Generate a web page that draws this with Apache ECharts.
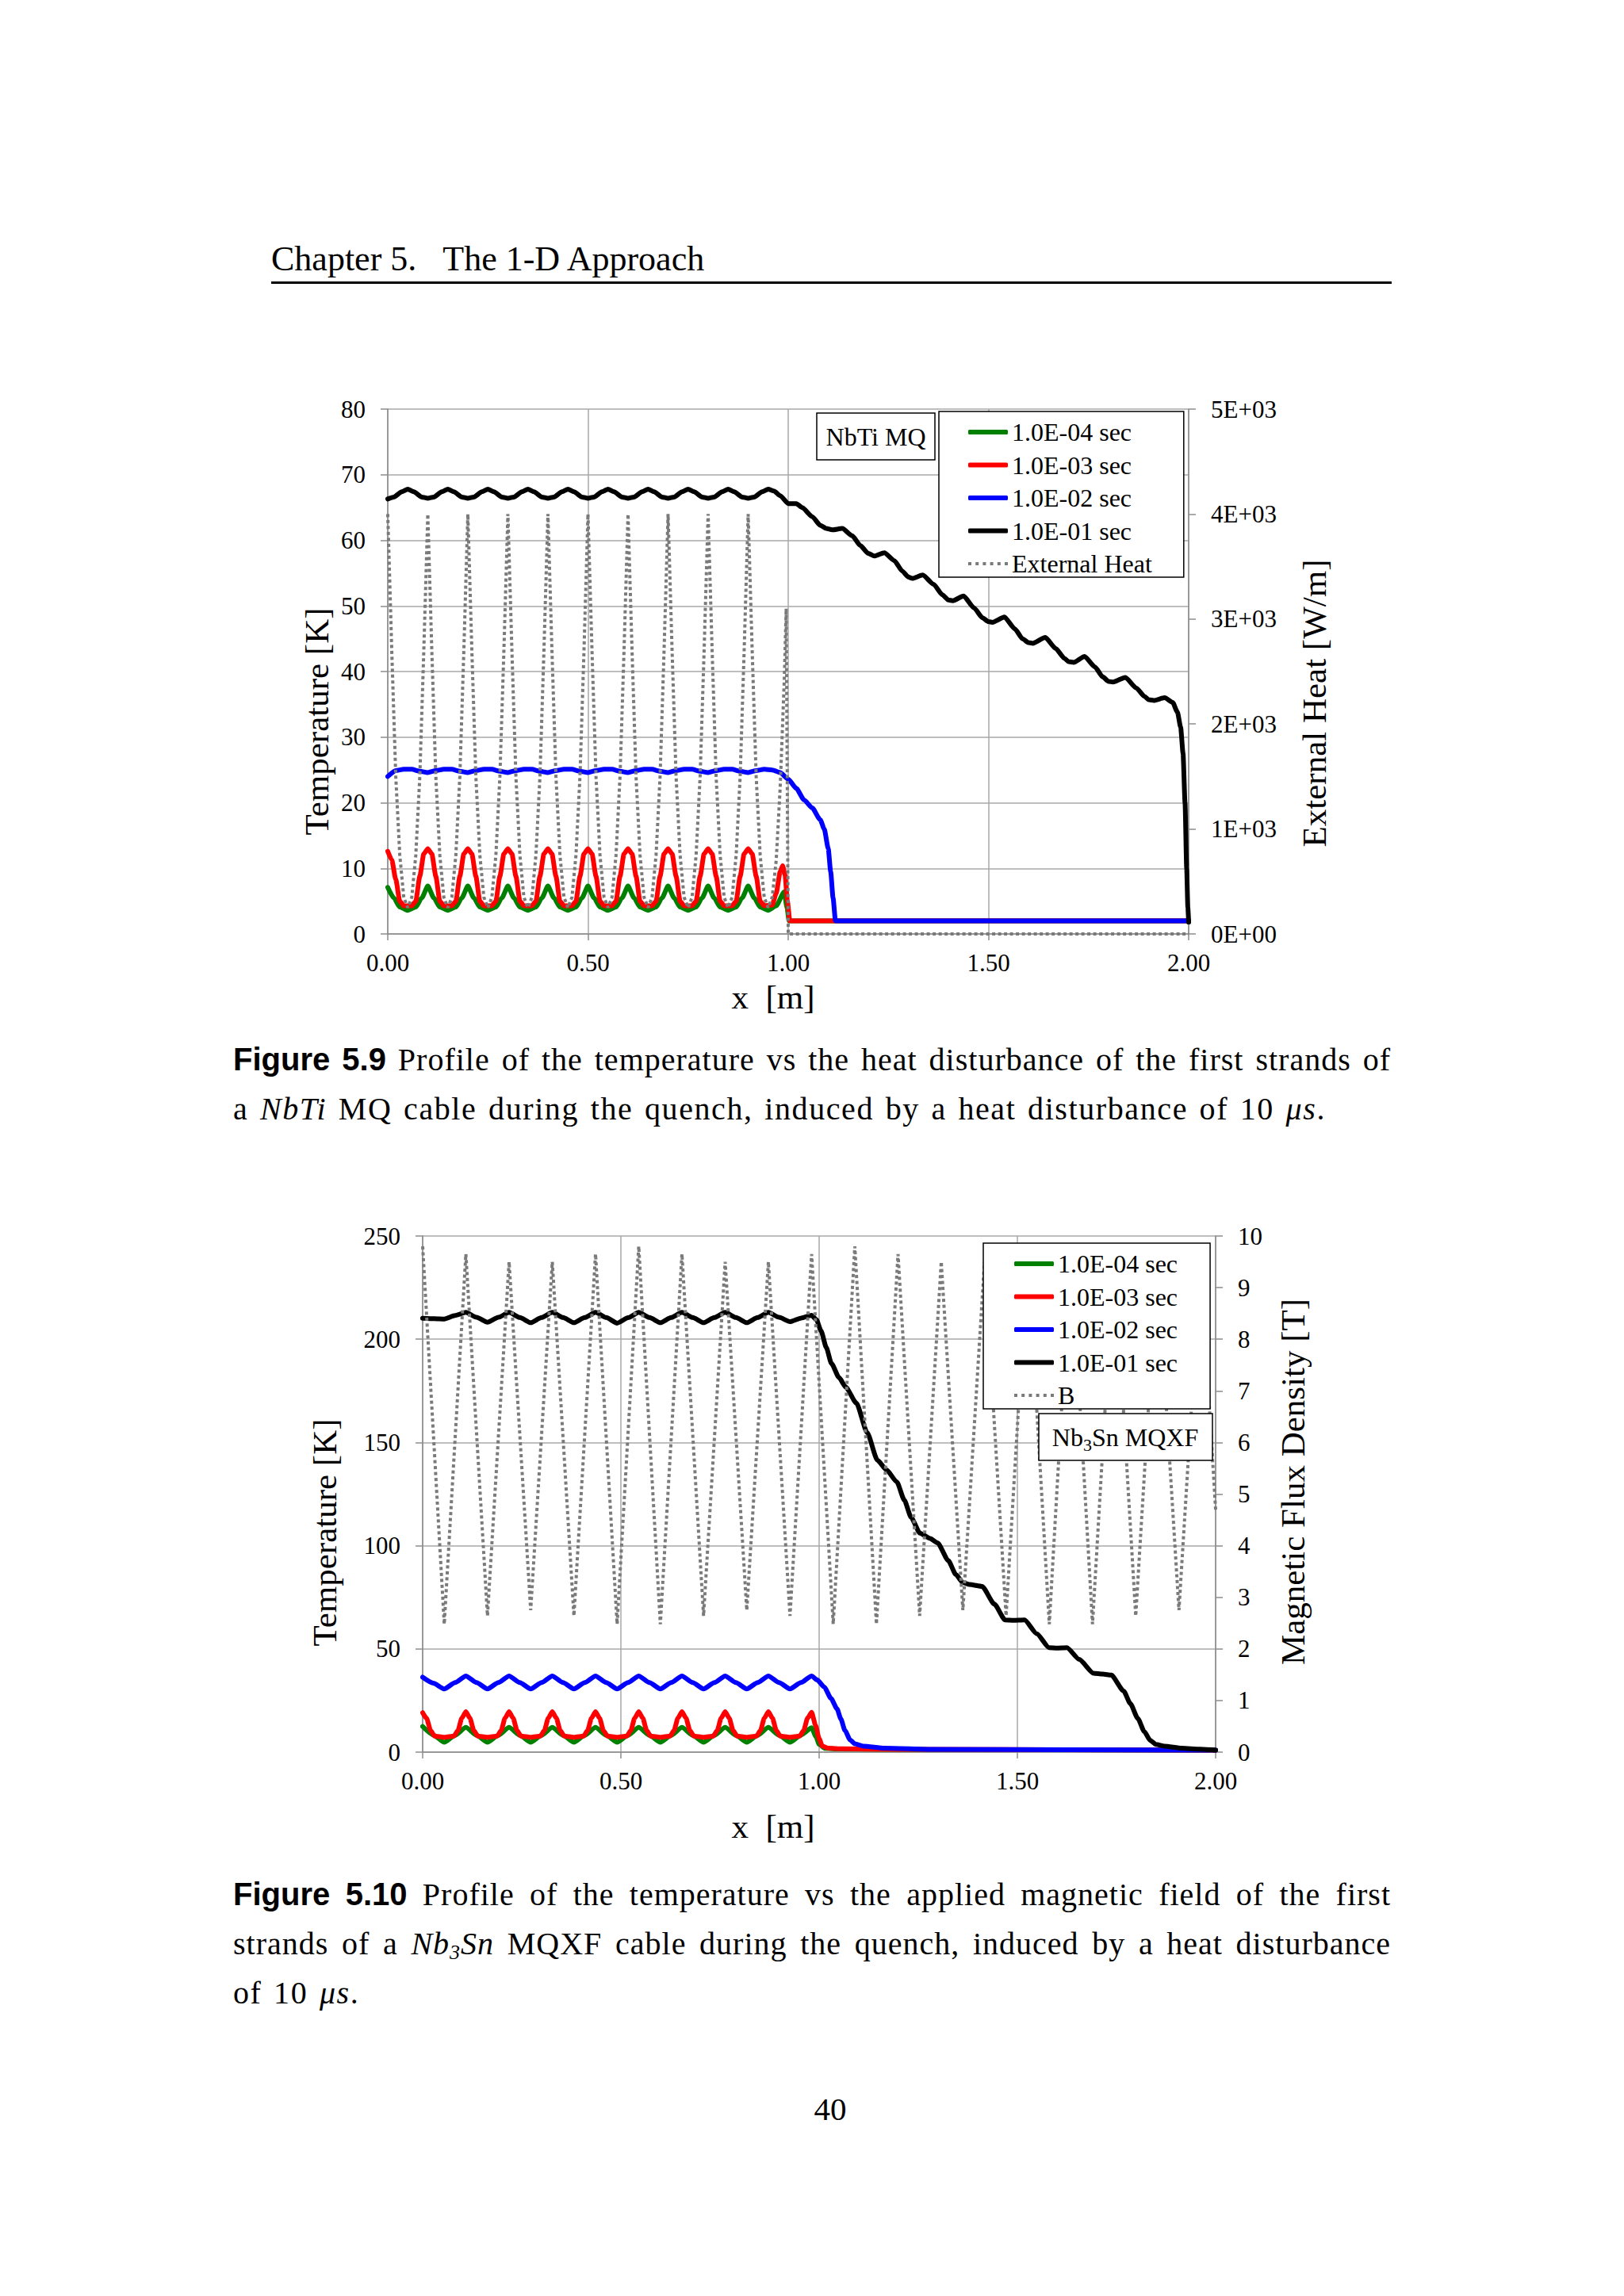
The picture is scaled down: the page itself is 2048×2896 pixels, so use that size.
<!DOCTYPE html>
<html>
<head>
<meta charset="utf-8">
<script src="https://cdn.jsdelivr.net/npm/echarts@6/dist/echarts.min.js"></script>
<style>
html,body{margin:0;padding:0;background:#fff;}
body{width:2048px;height:2896px;position:relative;overflow:hidden;font-family:'Liberation Serif','Times New Roman',serif;color:#000;}
#chart{position:absolute;left:0;top:0;width:2048px;height:2896px;z-index:2;}
.t{position:absolute;white-space:nowrap;}
#hdr{left:342px;top:305px;font-size:44px;line-height:44px;}
#rule{position:absolute;left:342px;top:355px;width:1413px;height:2.5px;background:#000;}
.cap{position:absolute;left:294px;width:1460px;font-size:40px;line-height:62px;}
.cap div{letter-spacing:1.6px;word-spacing:3px;}
.cap .j{text-align:justify;text-align-last:justify;letter-spacing:1px;word-spacing:0;}
.cap b{font-family:'Liberation Sans',Arial,sans-serif;font-weight:bold;letter-spacing:0;}
.cap sub{font-size:26px;line-height:0;vertical-align:-6px;}
#pg{left:947px;width:200px;text-align:center;top:2640px;font-size:41px;line-height:41px;}
</style>
</head>
<body>
<div class="t" id="hdr">Chapter 5. &ensp;The 1-D Approach</div>
<div id="rule"></div>
<div class="cap" style="top:1305px">
  <div class="j"><b>Figure 5.9</b> Profile of the temperature vs the heat disturbance of the first strands of</div>
  <div>a <i>NbTi</i> MQ cable during the quench, induced by a heat disturbance of 10 <i>μs</i>.</div>
</div>
<div class="cap" style="top:2358px">
  <div class="j"><b>Figure 5.10</b> Profile of the temperature vs the applied magnetic field of the first</div>
  <div class="j">strands of a <i>Nb<sub>3</sub>Sn</i> MQXF cable during the quench, induced by a heat disturbance</div>
  <div>of 10 <i>μs</i>.</div>
</div>
<div class="t" id="pg">40</div>
<div id="chart"></div>
<script>
// ---------- names & tick labels ----------
const seriesNames = ['1.0E-04 sec', '1.0E-03 sec', '1.0E-02 sec', '1.0E-01 sec'];
const heatName = 'External Heat';
const fieldName = 'B';
const xTickLabels = ['0.00', '0.50', '1.00', '1.50', '2.00'];
const heatTickLabels = ['0E+00', '1E+03', '2E+03', '3E+03', '4E+03', '5E+03'];

// ---------- Figure 5.9 (NbTi MQ): x [m], T [K] ----------
const green1 = [
 [0,7.1],[0.015,5.5],[0.03,4.1],[0.05,3.6],[0.07,4.1],[0.085,5.5],
 [0.1,7.3],[0.115,5.5],[0.13,4.1],[0.15,3.6],[0.17,4.1],[0.185,5.5],
 [0.2,7.3],[0.215,5.5],[0.23,4.1],[0.25,3.6],[0.27,4.1],[0.285,5.5],
 [0.3,7.3],[0.315,5.5],[0.33,4.1],[0.35,3.6],[0.37,4.1],[0.385,5.5],
 [0.4,7.3],[0.415,5.5],[0.43,4.1],[0.45,3.6],[0.47,4.1],[0.485,5.5],
 [0.5,7.3],[0.515,5.5],[0.53,4.1],[0.55,3.6],[0.57,4.1],[0.585,5.5],
 [0.6,7.3],[0.615,5.5],[0.63,4.1],[0.65,3.6],[0.67,4.1],[0.685,5.5],
 [0.7,7.3],[0.715,5.5],[0.73,4.1],[0.75,3.6],[0.77,4.1],[0.785,5.5],
 [0.8,7.3],[0.815,5.5],[0.83,4.1],[0.85,3.6],[0.87,4.1],[0.885,5.5],
 [0.9,7.3],[0.915,5.5],[0.93,4.1],[0.95,3.6],[0.97,4.3],[0.99,6.4],[0.997,4.0],[1.002,2.0],[2.0,2.0]
];
const red1 = [
 [0,12.6],[0.01,11.3],[0.02,8.3],[0.03,5.0],[0.04,4.3],[0.06,4.3],[0.07,5.0],[0.08,8.8],[0.09,12.2],
 [0.1,13.0],[0.11,12.2],[0.12,8.8],[0.13,5.0],[0.14,4.3],[0.16,4.3],[0.17,5.0],[0.18,8.8],[0.19,12.2],
 [0.2,13.0],[0.21,12.2],[0.22,8.8],[0.23,5.0],[0.24,4.3],[0.26,4.3],[0.27,5.0],[0.28,8.8],[0.29,12.2],
 [0.3,13.0],[0.31,12.2],[0.32,8.8],[0.33,5.0],[0.34,4.3],[0.36,4.3],[0.37,5.0],[0.38,8.8],[0.39,12.2],
 [0.4,13.0],[0.41,12.2],[0.42,8.8],[0.43,5.0],[0.44,4.3],[0.46,4.3],[0.47,5.0],[0.48,8.8],[0.49,12.2],
 [0.5,13.0],[0.51,12.2],[0.52,8.8],[0.53,5.0],[0.54,4.3],[0.56,4.3],[0.57,5.0],[0.58,8.8],[0.59,12.2],
 [0.6,13.0],[0.61,12.2],[0.62,8.8],[0.63,5.0],[0.64,4.3],[0.66,4.3],[0.67,5.0],[0.68,8.8],[0.69,12.2],
 [0.7,13.0],[0.71,12.2],[0.72,8.8],[0.73,5.0],[0.74,4.3],[0.76,4.3],[0.77,5.0],[0.78,8.8],[0.79,12.2],
 [0.8,13.0],[0.81,12.2],[0.82,8.8],[0.83,5.0],[0.84,4.3],[0.86,4.3],[0.87,5.0],[0.88,8.8],[0.89,12.2],
 [0.9,13.0],[0.91,12.2],[0.92,8.8],[0.93,5.0],[0.94,4.3],[0.96,4.4],[0.97,6.2],[0.98,9.5],[0.986,10.4],[0.992,9.0],[0.998,5.0],[1.004,2.0],[2.0,2.0]
];
const blue1 = [
 [0,24.0],[0.02,24.9],[0.04,25.1],[0.06,25.1],[0.08,24.8],
 [0.1,24.6],[0.12,24.9],[0.14,25.1],[0.16,25.1],[0.18,24.8],
 [0.2,24.6],[0.22,24.9],[0.24,25.1],[0.26,25.1],[0.28,24.8],
 [0.3,24.6],[0.32,24.9],[0.34,25.1],[0.36,25.1],[0.38,24.8],
 [0.4,24.6],[0.42,24.9],[0.44,25.1],[0.46,25.1],[0.48,24.8],
 [0.5,24.6],[0.52,24.9],[0.54,25.1],[0.56,25.1],[0.58,24.8],
 [0.6,24.6],[0.62,24.9],[0.64,25.1],[0.66,25.1],[0.68,24.8],
 [0.7,24.6],[0.72,24.9],[0.74,25.1],[0.76,25.1],[0.78,24.8],
 [0.8,24.6],[0.82,24.9],[0.84,25.1],[0.86,25.1],[0.88,24.8],
 [0.9,24.6],[0.92,24.9],[0.94,25.1],[0.96,25.0],[0.98,24.6],[1.0,23.6],[1.02,22.2],[1.04,20.4],[1.06,19.2],
 [1.08,17.4],[1.09,16.0],[1.1,13.0],[1.106,9.5],[1.112,5.5],[1.118,2.0],[2.0,2.0]
];
const black1 = [
 [0,66.3],[0.015,66.6],[0.035,67.4],[0.05,67.8],[0.065,67.4],[0.085,66.6],
 [0.1,66.4],[0.115,66.6],[0.135,67.4],[0.15,67.8],[0.165,67.4],[0.185,66.6],
 [0.2,66.4],[0.215,66.6],[0.235,67.4],[0.25,67.8],[0.265,67.4],[0.285,66.6],
 [0.3,66.4],[0.315,66.6],[0.335,67.4],[0.35,67.8],[0.365,67.4],[0.385,66.6],
 [0.4,66.4],[0.415,66.6],[0.435,67.4],[0.45,67.8],[0.465,67.4],[0.485,66.6],
 [0.5,66.4],[0.515,66.6],[0.535,67.4],[0.55,67.8],[0.565,67.4],[0.585,66.6],
 [0.6,66.4],[0.615,66.6],[0.635,67.4],[0.65,67.8],[0.665,67.4],[0.685,66.6],
 [0.7,66.4],[0.715,66.6],[0.735,67.4],[0.75,67.8],[0.765,67.4],[0.785,66.6],
 [0.8,66.4],[0.815,66.6],[0.835,67.4],[0.85,67.8],[0.865,67.4],[0.885,66.6],
 [0.9,66.4],[0.915,66.6],[0.935,67.4],[0.95,67.8],[0.965,67.5],[0.98,66.8],[1.0,65.6],[1.02,65.6],
 [1.035,65.0],[1.06,63.6],[1.08,62.3],[1.095,61.8],[1.11,61.6],[1.135,61.8],[1.16,60.7],[1.18,59.2],
 [1.2,58.0],[1.215,57.6],[1.24,58.1],[1.265,56.9],[1.285,55.3],[1.3,54.4],[1.31,54.2],[1.336,54.7],
 [1.363,53.3],[1.385,51.7],[1.4,50.9],[1.411,50.8],[1.438,51.5],[1.464,49.7],[1.485,48.2],[1.5,47.6],
 [1.51,47.5],[1.54,48.3],[1.566,46.5],[1.585,45.0],[1.6,44.4],[1.611,44.3],[1.642,45.2],[1.668,43.5],
 [1.69,42.0],[1.7,41.5],[1.713,41.4],[1.74,42.3],[1.766,40.7],[1.785,39.2],[1.8,38.5],[1.811,38.4],
 [1.842,39.1],[1.869,37.5],[1.89,36.2],[1.9,35.7],[1.913,35.6],[1.94,36.0],[1.96,35.3],[1.972,33.8],
 [1.98,31.5],[1.986,27.5],[1.991,19.9],[1.995,10.0],[1.998,4.0],[2.0,1.8]
];
// External heat [W/m] (right axis)
const heat1 = [
 [0,4000],[0.01,2700],[0.02,1500],[0.03,750],[0.04,350],[0.05,250],[0.06,350],[0.07,750],[0.08,1500],[0.09,2700],
 [0.1,4000],[0.11,2700],[0.12,1500],[0.13,750],[0.14,350],[0.15,250],[0.16,350],[0.17,750],[0.18,1500],[0.19,2700],
 [0.2,4000],[0.21,2700],[0.22,1500],[0.23,750],[0.24,350],[0.25,250],[0.26,350],[0.27,750],[0.28,1500],[0.29,2700],
 [0.3,4000],[0.31,2700],[0.32,1500],[0.33,750],[0.34,350],[0.35,250],[0.36,350],[0.37,750],[0.38,1500],[0.39,2700],
 [0.4,4000],[0.41,2700],[0.42,1500],[0.43,750],[0.44,350],[0.45,250],[0.46,350],[0.47,750],[0.48,1500],[0.49,2700],
 [0.5,4000],[0.51,2700],[0.52,1500],[0.53,750],[0.54,350],[0.55,250],[0.56,350],[0.57,750],[0.58,1500],[0.59,2700],
 [0.6,4000],[0.61,2700],[0.62,1500],[0.63,750],[0.64,350],[0.65,250],[0.66,350],[0.67,750],[0.68,1500],[0.69,2700],
 [0.7,4000],[0.71,2700],[0.72,1500],[0.73,750],[0.74,350],[0.75,250],[0.76,350],[0.77,750],[0.78,1500],[0.79,2700],
 [0.8,4000],[0.81,2700],[0.82,1500],[0.83,750],[0.84,350],[0.85,250],[0.86,350],[0.87,750],[0.88,1500],[0.89,2700],
 [0.9,4000],[0.91,2700],[0.92,1500],[0.93,750],[0.94,350],[0.95,250],[0.96,350],[0.97,700],[0.98,1400],[0.99,2400],
 [0.995,3100],[1.0,0],[2.0,0]
];

// ---------- Figure 5.10 (Nb3Sn MQXF): x [m], T [K] ----------
const green2 = [
 [0,12.4],[0.027,8.3],[0.0545,4.8],[0.082,8.2],
 [0.109,12.0],[0.136,8.2],[0.1635,4.8],[0.191,8.2],
 [0.218,12.0],[0.245,8.2],[0.2725,4.8],[0.3,8.2],
 [0.327,12.0],[0.354,8.2],[0.3815,4.8],[0.409,8.2],
 [0.436,12.0],[0.463,8.2],[0.4905,4.8],[0.518,8.2],
 [0.545,12.0],[0.572,8.2],[0.5995,4.8],[0.627,8.2],
 [0.654,12.0],[0.681,8.2],[0.7085,4.8],[0.736,8.2],
 [0.763,12.0],[0.79,8.2],[0.8175,4.8],[0.845,8.2],
 [0.872,12.0],[0.899,8.2],[0.9265,4.8],[0.954,8.2],
 [0.981,11.8],[0.992,7.5],[1.0,3.8],[1.015,1.8],[1.05,1.5],[1.3,1.2],[2.0,1.0]
];
const red2 = [
 [0,19.1],[0.01,16.3],[0.02,10.5],[0.03,7.8],[0.0545,7.2],[0.079,7.8],[0.089,10.5],[0.099,16.5],
 [0.109,19.6],[0.119,16.5],[0.129,10.5],[0.139,7.8],[0.1635,7.2],[0.188,7.8],[0.198,10.5],[0.208,16.5],
 [0.218,19.6],[0.228,16.5],[0.238,10.5],[0.248,7.8],[0.2725,7.2],[0.297,7.8],[0.307,10.5],[0.317,16.5],
 [0.327,19.6],[0.337,16.5],[0.347,10.5],[0.357,7.8],[0.3815,7.2],[0.406,7.8],[0.416,10.5],[0.426,16.5],
 [0.436,19.6],[0.446,16.5],[0.456,10.5],[0.466,7.8],[0.4905,7.2],[0.515,7.8],[0.525,10.5],[0.535,16.5],
 [0.545,19.6],[0.555,16.5],[0.565,10.5],[0.575,7.8],[0.5995,7.2],[0.624,7.8],[0.634,10.5],[0.644,16.5],
 [0.654,19.6],[0.664,16.5],[0.674,10.5],[0.684,7.8],[0.7085,7.2],[0.733,7.8],[0.743,10.5],[0.753,16.5],
 [0.763,19.6],[0.773,16.5],[0.783,10.5],[0.793,7.8],[0.8175,7.2],[0.842,7.8],[0.852,10.5],[0.862,16.5],
 [0.872,19.6],[0.882,16.5],[0.892,10.5],[0.902,7.8],[0.9265,7.2],[0.951,7.8],[0.961,10.5],[0.971,16.5],
 [0.981,19.3],[0.991,13.0],[1.0,6.5],[1.008,3.0],[1.022,1.9],[1.06,1.6],[1.2,1.3],[2.0,1.0]
];
const blue2 = [
 [0,36.3],[0.027,33.4],[0.0545,30.6],[0.082,33.7],
 [0.109,36.9],[0.136,33.7],[0.1635,30.6],[0.191,33.7],
 [0.218,36.9],[0.245,33.7],[0.2725,30.6],[0.3,33.7],
 [0.327,36.9],[0.354,33.7],[0.3815,30.6],[0.409,33.7],
 [0.436,36.9],[0.463,33.7],[0.4905,30.6],[0.518,33.7],
 [0.545,36.9],[0.572,33.7],[0.5995,30.6],[0.627,33.7],
 [0.654,36.9],[0.681,33.7],[0.7085,30.6],[0.736,33.7],
 [0.763,36.9],[0.79,33.7],[0.8175,30.6],[0.845,33.7],
 [0.872,36.9],[0.899,33.7],[0.9265,30.6],[0.954,33.7],
 [0.981,36.9],[0.995,35.0],[1.013,31.5],[1.03,26.0],[1.045,21.0],[1.055,16.0],[1.065,10.5],
 [1.078,6.0],[1.09,4.0],[1.112,2.9],[1.165,1.9],[1.29,1.3],[2.0,1.0]
];
const black2 = [
 [0,210.2],[0.03,210.0],[0.0545,209.8],[0.082,211.5],
 [0.109,213.0],[0.136,210.6],[0.1635,208.2],[0.191,210.6],
 [0.218,213.0],[0.245,210.5],[0.2725,208.0],[0.3,210.5],
 [0.327,213.0],[0.354,210.5],[0.3815,208.0],[0.409,210.5],
 [0.436,213.0],[0.463,210.5],[0.4905,207.8],[0.518,210.4],
 [0.545,213.0],[0.572,210.5],[0.5995,208.0],[0.627,210.5],
 [0.654,213.0],[0.681,210.5],[0.7085,208.0],[0.736,210.5],
 [0.763,213.0],[0.79,210.5],[0.8175,208.0],[0.845,210.5],
 [0.872,213.0],[0.899,210.6],[0.9265,208.5],[0.955,210.3],
 [0.981,211.6],[0.993,209.5],[1.005,204.0],[1.018,196.0],[1.031,188.3],[1.05,181.5],[1.067,176.8],
 [1.094,169.1],[1.121,154.8],[1.147,141.4],[1.17,136.7],[1.196,130.9],[1.215,122.0],[1.232,113.7],
 [1.254,106.1],[1.28,103.5],[1.299,101.3],[1.326,92.7],[1.345,86.0],[1.362,82.2],[1.379,81.2],
 [1.411,80.3],[1.442,71.7],[1.469,64.0],[1.49,63.8],[1.518,64.0],[1.549,57.3],[1.58,50.6],[1.6,50.4],
 [1.625,50.6],[1.656,44.9],[1.692,38.2],[1.715,37.8],[1.737,37.3],[1.768,29.6],[1.785,23.5],
 [1.804,16.2],[1.82,10.0],[1.835,5.7],[1.85,3.7],[1.871,2.9],[1.915,1.9],[1.96,1.4],[2.0,1.0]
];
// Magnetic flux density B [T] (right axis)
const field2 = [
 [0,9.8],[0.0545,2.48],[0.109,9.65],[0.1635,2.64],[0.218,9.5],[0.2725,2.75],[0.327,9.5],[0.3815,2.64],
 [0.436,9.65],[0.4905,2.48],[0.545,9.8],[0.5995,2.48],[0.654,9.65],[0.7085,2.64],[0.763,9.5],[0.8175,2.75],
 [0.872,9.5],[0.9265,2.64],[0.981,9.65],[1.0355,2.48],[1.09,9.8],[1.1445,2.48],[1.199,9.65],[1.2535,2.64],
 [1.308,9.5],[1.3625,2.75],[1.417,9.5],[1.4715,2.64],[1.526,9.65],[1.5805,2.48],[1.635,9.8],[1.6895,2.48],
 [1.744,9.65],[1.7985,2.64],[1.853,9.5],[1.9075,2.75],[1.962,9.5],[2.0,4.7]
];

// ---------- styling ----------
const FONT = "'Liberation Serif', 'Times New Roman', serif";
const COLORS = ['#008000', '#ff0000', '#0000ff', '#000000'];
const GREY = '#7a7a7a';
const AXIS = '#8c8c8c';
const GRID = '#a8a8a8';
const DOTS = 'path://M0,0h4v4h-4zM9.2,0h4v4h-4zM18.4,0h4v4h-4zM27.6,0h4v4h-4zM36.8,0h4v4h-4zM46,0h4v4h-4z';

function xAxisCfg(gi) {
  return {
    type: 'value', gridIndex: gi, min: 0, max: 2, interval: 0.5,
    axisLine: {show: true, onZero: false, lineStyle: {color: AXIS, width: 1.5}},
    axisTick: {show: true, length: 8, lineStyle: {color: AXIS, width: 1.5}},
    splitLine: {show: true, lineStyle: {color: GRID, width: 1.5}},
    axisLabel: {color: '#000', fontFamily: FONT, fontSize: 31, margin: 21,
      formatter: (v, i) => xTickLabels[i]}
  };
}
function yAxisCfg(gi, pos, min, max, interval, split, fmt) {
  const a = {
    type: 'value', gridIndex: gi, position: pos, min: min, max: max, interval: interval,
    axisLine: {show: true, onZero: false, lineStyle: {color: AXIS, width: 1.5}},
    axisTick: {show: true, length: 9, lineStyle: {color: AXIS, width: 1.5}},
    splitLine: {show: split, lineStyle: {color: GRID, width: 1.5}},
    axisLabel: {color: '#000', fontFamily: FONT, fontSize: 31, margin: 28}
  };
  if (fmt) a.axisLabel.formatter = fmt;
  return a;
}
function tempSeries(name, data, color, xi, yi) {
  return {
    type: 'line', name: name, data: data, xAxisIndex: xi, yAxisIndex: yi,
    showSymbol: false, symbol: 'none', smooth: 0.2, smoothMonotone: 'x',
    color: color, itemStyle: {color: color},
    lineStyle: {color: color, width: 6, cap: 'round', join: 'round'},
    animation: false, z: 2
  };
}
function dotSeries(name, data, xi, yi) {
  return {
    type: 'line', name: name, data: data, xAxisIndex: xi, yAxisIndex: yi,
    showSymbol: false, symbol: 'none', smooth: false,
    color: GREY, itemStyle: {color: GREY},
    lineStyle: {color: GREY, width: 4, type: [4, 3.5], cap: 'butt'},
    animation: false, z: 3
  };
}
function legendCfg(left, top, pad, extraName) {
  return {
    orient: 'vertical', left: left, top: top, padding: pad,
    itemWidth: 50, itemHeight: 6, itemGap: 9.5,
    borderColor: '#000', borderWidth: 1.5, backgroundColor: '#fff',
    selectedMode: false, z: 10,
    itemStyle: {borderWidth: 0},
    textStyle: {fontFamily: FONT, fontSize: 32, color: '#000', lineHeight: 32},
    data: [
      {name: seriesNames[0], icon: 'roundRect'},
      {name: seriesNames[1], icon: 'roundRect'},
      {name: seriesNames[2], icon: 'roundRect'},
      {name: seriesNames[3], icon: 'roundRect'},
      {name: extraName, icon: DOTS}
    ]
  };
}
function title(text, x, y, rot) {
  return {type: 'text', z: 100, x: x, y: y, rotation: rot ? Math.PI / 2 : 0,
    style: {text: text, fontFamily: FONT, fontSize: 43, fill: '#000', align: 'center', verticalAlign: 'middle'}};
}

const chart = echarts.init(document.getElementById('chart'), null, {renderer: 'svg', width: 2048, height: 2896});
chart.setOption({
  animation: false,
  backgroundColor: 'transparent',
  grid: [
    {left: 489, top: 516, width: 1010, height: 662, containLabel: false},
    {left: 533, top: 1559, width: 1000, height: 651, containLabel: false}
  ],
  xAxis: [xAxisCfg(0), xAxisCfg(1)],
  yAxis: [
    yAxisCfg(0, 'left', 0, 80, 10, true),
    yAxisCfg(0, 'right', 0, 5000, 1000, false, (v, i) => heatTickLabels[i]),
    yAxisCfg(1, 'left', 0, 250, 50, true),
    yAxisCfg(1, 'right', 0, 10, 1, false)
  ],
  legend: [
    legendCfg(1184, 519, [10, 40, 1, 37], heatName),
    legendCfg(1240, 1568, [10, 41, 1, 39], fieldName)
  ],
  series: [
    tempSeries(seriesNames[0], green1, COLORS[0], 0, 0),
    tempSeries(seriesNames[1], red1, COLORS[1], 0, 0),
    tempSeries(seriesNames[2], blue1, COLORS[2], 0, 0),
    tempSeries(seriesNames[3], black1, COLORS[3], 0, 0),
    dotSeries(heatName, heat1, 0, 1),
    tempSeries(seriesNames[0], green2, COLORS[0], 1, 2),
    tempSeries(seriesNames[1], red2, COLORS[1], 1, 2),
    tempSeries(seriesNames[2], blue2, COLORS[2], 1, 2),
    tempSeries(seriesNames[3], black2, COLORS[3], 1, 2),
    dotSeries(fieldName, field2, 1, 3)
  ],
  graphic: [
    title('Temperature [K]', 399, 910, true),
    title('External Heat [W/m]', 1657, 887, true),
    title('x  [m]', 975, 1257, false),
    title('Temperature [K]', 409, 1933, true),
    title('Magnetic Flux Density [T]', 1630, 1869, true),
    title('x  [m]', 975, 2303, false),
    {type: 'rect', z: 100, shape: {x: 1030, y: 521, width: 149, height: 59},
      style: {fill: '#fff', stroke: '#000', lineWidth: 1.5}},
    {type: 'text', z: 101, x: 1104.5, y: 551,
      style: {text: 'NbTi MQ', fontFamily: FONT, fontSize: 32, fill: '#000', align: 'center', verticalAlign: 'middle'}},
    {type: 'rect', z: 100, shape: {x: 1310, y: 1783, width: 219, height: 59},
      style: {fill: '#fff', stroke: '#000', lineWidth: 1.5}},
    {type: 'text', z: 101, x: 1419, y: 1813,
      style: {text: '{a|Nb}{b|3}{a|Sn MQXF}', align: 'center', verticalAlign: 'middle', fill: '#000',
        rich: {
          a: {fontFamily: FONT, fontSize: 32, lineHeight: 40, verticalAlign: 'middle', fill: '#000'},
          b: {fontFamily: FONT, fontSize: 22, lineHeight: 18, verticalAlign: 'bottom', fill: '#000'}
        }}}
  ]
});
</script>
</body>
</html>
